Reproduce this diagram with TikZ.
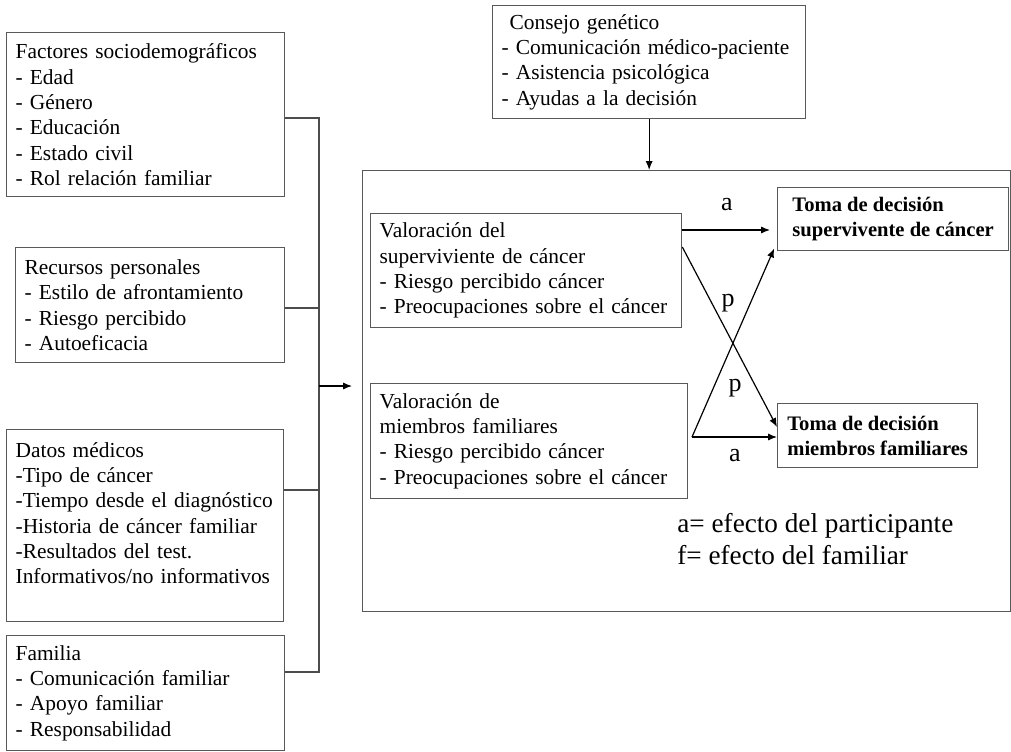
\documentclass[tikz,border=0pt]{standalone}
\usepackage{fontspec}
\setmainfont{Liberation Serif}
\usetikzlibrary{arrows.meta}
\hyphenpenalty=10000

\begin{document}
\begin{tikzpicture} [x=0.5pt, y=-0.5pt,
    caja/.style={draw=black!65, line width=0.65pt, anchor=north west, align=left,
      inner xsep=4.5pt, inner ysep=0pt, font=\fontsize{10.7}{12.65}\selectfont},
    toma/.style={caja, inner xsep=0pt, font=\fontsize{10.3}{12.65}\selectfont\bfseries},
    linea/.style={draw=black!70, line width=0.65pt},
    flecha/.style={black, line width=0.6pt, -{Latex[length=4.5pt, width=3.6pt]}},
    letra/.style={inner sep=0pt, font=\fontsize{13}{15}\selectfont}]
      \useasboundingbox (0,0) rectangle (1011,751);

      % 左の箱
      \node [caja, text width=130pt, minimum height=82pt] (factores) at (6,32)
        {Factores sociodemográficos\\- Edad\\- Género\\- Educación\\- Estado civil\\- Rol relación familiar};
      \node [caja, text width=125.5pt, minimum height=57.5pt] (recursos) at (15,247)
        {Recursos personales\\- Estilo de afrontamiento\\- Riesgo percibido\\- Autoeficacia};
      \node [caja, text width=129.5pt, minimum height=96pt] (datos) at (6,429)
        {Datos médicos\\-Tipo de cáncer\\-Tiempo desde el diagnóstico\\-Historia de cáncer familiar\\-Resultados del test.\\Informativos/no informativos\\~};
      \node [caja, text width=130pt, minimum height=57.5pt] (familia) at (6,635)
        {Familia\\- Comunicación familiar\\- Apoyo familiar\\- Responsabilidad};

      % 上の箱
      \node [caja, text width=147.5pt, minimum height=56.5pt] (consejo) at (492,5)
        {\hspace*{4pt}Consejo genético\\- Comunicación médico-paciente\\- Asistencia psicológica\\- Ayudas a la decisión};

      % 中央の枠
      \node [draw=black!65, line width=0.65pt, anchor=north west, inner sep=0pt,
        minimum width=324pt, minimum height=220.5pt] (marco) at (362,170) {};
      \node [caja, text width=146.5pt, minimum height=57pt] (val1) at (370,213)
        {Valoración del\\superviviente de cáncer\\- Riesgo percibido cáncer\\- Preocupaciones sobre el cáncer};
      \node [caja, text width=149.5pt, minimum height=57.5pt] (val2) at (370,383)
        {Valoración de\\miembros familiares\\- Riesgo percibido cáncer\\- Preocupaciones sobre el cáncer};
      \node [toma, minimum width=115.5pt, minimum height=31.5pt] (toma1) at (777,187)
        {Toma de decisión\\supervivente de cáncer};
      \node [toma, minimum width=100pt, minimum height=32pt] (toma2) at (777,403)
        {Toma de decisión\\miembros familiares};

      % 括弧線
      \coordinate (barra) at (319,0);
      \draw [linea](factores.east |- 0,118) -- (barra |- 0,118) -- (barra |- 0,672) -- (familia.east |- 0,672);
      \draw [linea](recursos.east |- 0,308) -- (barra |- 0,308);
      \draw [linea](datos.east |- 0,490) -- (barra |- 0,490);

      % 矢印
      \draw [flecha, shorten >=5pt](barra |- 0,386) -- (marco.west |- 0,386);
      \draw [flecha](consejo.south) -- (marco.north -| consejo.south);
      \draw [flecha, shorten >=3.5pt](val1.east |- 0,230) -- (toma1.west |- 0,230);
      \draw [flecha](val1.east |- 0,247) -- (toma2.west |- 0,427);
      \coordinate (v2) at (692,437);
      \draw [flecha, shorten >=3.5pt](v2) -- (toma1.west |- 0,242);
      \draw [flecha](v2) -- (toma2.west |- v2);

      % 説明
      \node [letra] (a1) at (727,205) {a};
      \node [letra] (a2) at (735,456) {a};
      \node [letra] (p1) at (728,303) {p};
      \node [letra] (p2) at (735,388) {p};
      \node [anchor=west, align=left, inner sep=0pt, font=\fontsize{13.6}{16}\selectfont] (leyenda) at (677,539)
        {a= efecto del participante\\f= efecto del familiar};
    \end{tikzpicture}
\end{document}
